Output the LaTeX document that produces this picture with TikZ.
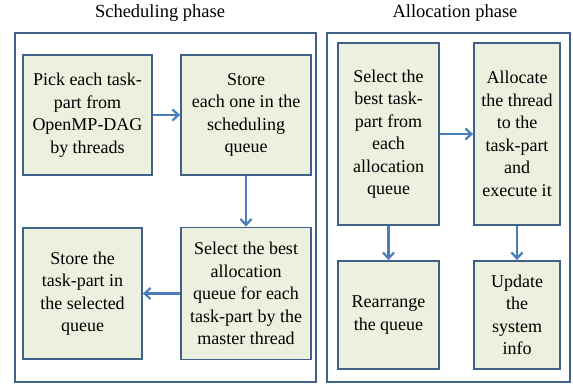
\documentclass[tikz,border=0pt]{standalone}
\usepackage{fontspec}
\setmainfont{Liberation Serif}
\usetikzlibrary{arrows.meta}
\definecolor{boxfill}{HTML}{EBF1DE}
\definecolor{boxline}{HTML}{41608A}
\definecolor{arrowc}{HTML}{4A7EBB}
\begin{document}
\begin{tikzpicture}[x=1pt,y=-1pt,
  outer/.style={draw=boxline,line width=1.6pt},
  stepbox/.style={draw=boxline,fill=boxfill,line width=1.8pt,inner sep=0pt,
    font=\fontsize{18}{22.5}\selectfont,align=center},
  flow/.style={draw=arrowc,line width=2.2pt,-{Straight Barb[length=6pt,width=11pt]}},
  title/.style={font=\fontsize{18.5}{22}\selectfont}]
\useasboundingbox (0,0) rectangle (573,385);
% titles
\node[title] (t1) at (160,13) {Scheduling phase};
\node[title] (t2) at (455,13) {Allocation phase};
% outer boxes
\draw[outer] (15,33) rectangle (316,382);
\draw[outer] (327,33) rectangle (570,382);
% scheduling boxes
\node[stepbox,minimum width=129pt,minimum height=120pt] (a) at (87.5,115) {Pick each task-\\part from\\OpenMP-DAG\\by threads};
\node[stepbox,minimum width=130pt,minimum height=120pt] (b) at (246,115) {Store\\each one in the\\scheduling\\queue};
\node[stepbox,minimum width=130pt,minimum height=132pt] (c) at (246,293.5) {Select the best\\allocation\\queue for each\\task-part by the\\master thread};
\node[stepbox,minimum width=119pt,minimum height=131pt] (d) at (82.5,293.5) {Store the\\task-part in\\the selected\\queue};
% allocation boxes
\node[stepbox,minimum width=101pt,minimum height=182pt] (e) at (388.5,134) {Select the\\best task-\\part from\\each\\allocation\\queue};
\node[stepbox,minimum width=86pt,minimum height=182pt] (f) at (517,134) {Allocate\\the thread\\to the\\task-part\\and\\execute it};
\node[stepbox,minimum width=101pt,minimum height=108pt] (g) at (388.5,315) {Rearrange\\the queue};
\node[stepbox,minimum width=86pt,minimum height=108pt] (h) at (517,315) {Update\\the\\system\\info};
% arrows
\draw[flow] (a) -- (b);
\draw[flow] (b) -- (c);
\draw[flow] (c) -- (d);
\draw[flow] (e) -- (f);
\draw[flow] (e) -- (g);
\draw[flow] (f) -- (h);
\end{tikzpicture}
\end{document}
